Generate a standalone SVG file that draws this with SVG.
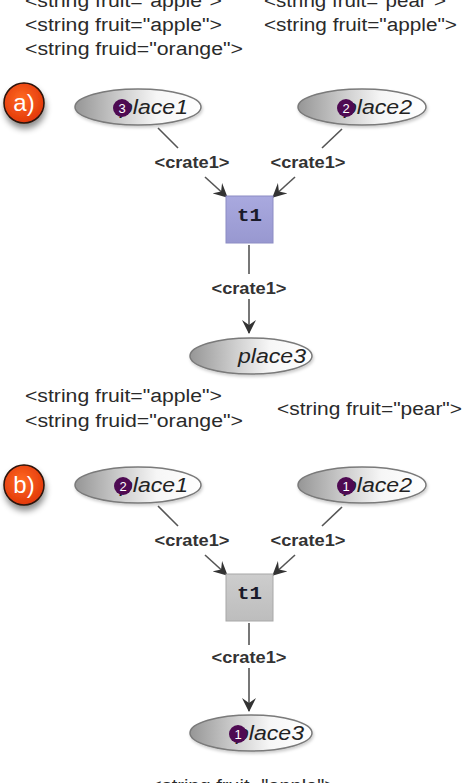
<svg xmlns="http://www.w3.org/2000/svg" width="464" height="783" viewBox="0 0 464 783">
<defs>
<style>
.str{font-family:"Liberation Sans",Arial,sans-serif;font-size:18px;fill:#2a2a2a}
.lbl{font-family:"Liberation Sans",Arial,sans-serif;font-size:16px;font-weight:bold;fill:#333}
.pname{font-family:"Liberation Sans",Arial,sans-serif;font-size:20px;font-style:italic;fill:#222}
.tname{font-family:"Liberation Mono","DejaVu Sans Mono",monospace;font-size:18px;font-weight:bold;fill:#1a1a2a}
.tok{fill:#4e0a52}
.toktxt{font-family:"Liberation Sans",Arial,sans-serif;font-size:13px;fill:#fff}
.place{fill:url(#pg);stroke:#7a7a7a;stroke-width:1.5}
.arc{stroke:#555;stroke-width:1.6;fill:none}
.badge{fill:url(#bg);stroke:#2a1208;stroke-width:1.5}
.btxt{font-family:"Liberation Sans",Arial,sans-serif;font-size:24px;fill:#fff}
</style>
<linearGradient id="pg" x1="0" y1="0" x2="1" y2="0">
<stop offset="0" stop-color="#969696"/>
<stop offset="0.35" stop-color="#cbcbcb"/>
<stop offset="0.65" stop-color="#f6f6f6"/>
<stop offset="1" stop-color="#ffffff"/>
</linearGradient>
<radialGradient id="bg" cx="0.45" cy="0.4" r="0.6">
<stop offset="0" stop-color="#ff6a22"/>
<stop offset="1" stop-color="#e2380a"/>
</radialGradient>
<linearGradient id="tg1" x1="0" y1="0" x2="0" y2="1">
<stop offset="0" stop-color="#a9a9df"/>
<stop offset="1" stop-color="#9898d0"/>
</linearGradient>
<linearGradient id="tg2" x1="0" y1="0" x2="0" y2="1">
<stop offset="0" stop-color="#cdcdcd"/>
<stop offset="1" stop-color="#bdbdbd"/>
</linearGradient>
<filter id="sh" x="-50%" y="-50%" width="200%" height="200%">
<feDropShadow dx="1" dy="5" stdDeviation="3" flood-color="#000" flood-opacity="0.45"/>
</filter>
<filter id="psh" x="-20%" y="-30%" width="140%" height="170%">
<feDropShadow dx="1" dy="2" stdDeviation="1.5" flood-color="#000" flood-opacity="0.2"/>
</filter>
<marker id="ah" viewBox="0 0 14 14" refX="13" refY="7" markerWidth="14" markerHeight="14" markerUnits="userSpaceOnUse" orient="auto">
<path d="M0,0 L14,7 L0,14 L5,7 z" fill="#333"/>
</marker>
</defs>

<g id="texts-top">
<text class="str" x="25" y="7" textLength="197" lengthAdjust="spacingAndGlyphs">&lt;string fruit="apple"&gt;</text>
<text class="str" x="25" y="31" textLength="197" lengthAdjust="spacingAndGlyphs">&lt;string fruit="apple"&gt;</text>
<text class="str" x="25" y="55" textLength="218" lengthAdjust="spacingAndGlyphs">&lt;string fruid="orange"&gt;</text>
<text class="str" x="264" y="7" textLength="182" lengthAdjust="spacingAndGlyphs">&lt;string fruit="pear"&gt;</text>
<text class="str" x="264" y="31" textLength="193" lengthAdjust="spacingAndGlyphs">&lt;string fruit="apple"&gt;</text>
</g>

<g id="texts-mid">
<text class="str" x="25" y="402" textLength="197" lengthAdjust="spacingAndGlyphs">&lt;string fruit="apple"&gt;</text>
<text class="str" x="25" y="427" textLength="218" lengthAdjust="spacingAndGlyphs">&lt;string fruid="orange"&gt;</text>
<text class="str" x="277" y="415" textLength="185" lengthAdjust="spacingAndGlyphs">&lt;string fruit="pear"&gt;</text>
</g>

<g id="texts-bottom">
<text class="str" x="150" y="792" textLength="186" lengthAdjust="spacingAndGlyphs">&lt;string fruit="apple"&gt;</text>
</g>

<g id="badge-a">
<circle class="badge" cx="24" cy="103" r="20" filter="url(#sh)"/>
<text class="btxt" x="24" y="111" text-anchor="middle">a)</text>
</g>
<g id="badge-b">
<circle class="badge" cx="24" cy="485" r="20" filter="url(#sh)"/>
<text class="btxt" x="24" y="493" text-anchor="middle">b)</text>
</g>

<g id="connectors">
<line class="arc" x1="158" y1="128" x2="178" y2="148"/>
<line class="arc" x1="205" y1="177" x2="227" y2="197" marker-end="url(#ah)"/>
<line class="arc" x1="342" y1="129" x2="322" y2="148"/>
<line class="arc" x1="295" y1="177" x2="273" y2="197" marker-end="url(#ah)"/>
<line class="arc" x1="249" y1="245" x2="249" y2="274"/>
<line class="arc" x1="249" y1="299" x2="249" y2="333" marker-end="url(#ah)"/>
<line class="arc" x1="158" y1="506" x2="178" y2="526"/>
<line class="arc" x1="205" y1="555" x2="227" y2="575" marker-end="url(#ah)"/>
<line class="arc" x1="342" y1="507" x2="322" y2="526"/>
<line class="arc" x1="295" y1="555" x2="273" y2="575" marker-end="url(#ah)"/>
<line class="arc" x1="249" y1="623" x2="249" y2="645"/>
<line class="arc" x1="249" y1="668" x2="249" y2="711" marker-end="url(#ah)"/>
</g>

<g id="arc-labels">
<text class="lbl" x="192" y="168" text-anchor="middle" textLength="75" lengthAdjust="spacingAndGlyphs">&lt;crate1&gt;</text>
<text class="lbl" x="308" y="168" text-anchor="middle" textLength="75" lengthAdjust="spacingAndGlyphs">&lt;crate1&gt;</text>
<text class="lbl" x="249" y="294" text-anchor="middle" textLength="75" lengthAdjust="spacingAndGlyphs">&lt;crate1&gt;</text>
<text class="lbl" x="192" y="546" text-anchor="middle" textLength="75" lengthAdjust="spacingAndGlyphs">&lt;crate1&gt;</text>
<text class="lbl" x="308" y="546" text-anchor="middle" textLength="75" lengthAdjust="spacingAndGlyphs">&lt;crate1&gt;</text>
<text class="lbl" x="249" y="663" text-anchor="middle" textLength="75" lengthAdjust="spacingAndGlyphs">&lt;crate1&gt;</text>
</g>

<g id="a-place1">
<ellipse class="place" cx="138" cy="107" rx="63" ry="18" filter="url(#psh)"/>
<text class="pname" x="120" y="114" textLength="68" lengthAdjust="spacingAndGlyphs">place1</text>
<circle class="tok" cx="122" cy="108" r="9"/>
<text class="toktxt" x="122" y="112.5" text-anchor="middle">3</text>
</g>
<g id="a-place2">
<ellipse class="place" cx="362" cy="107" rx="64" ry="18" filter="url(#psh)"/>
<text class="pname" x="344" y="114" textLength="68" lengthAdjust="spacingAndGlyphs">place2</text>
<circle class="tok" cx="346" cy="108" r="9"/>
<text class="toktxt" x="346" y="112.5" text-anchor="middle">2</text>
</g>
<g id="a-t1">
<rect x="226" y="196" width="47" height="47" fill="url(#tg1)" stroke="#8c8cc4" stroke-width="1"/>
<text class="tname" x="249.5" y="221" text-anchor="middle" textLength="25" lengthAdjust="spacingAndGlyphs">t1</text>
</g>
<g id="a-place3">
<ellipse class="place" cx="251" cy="356" rx="61" ry="18" filter="url(#psh)"/>
<text class="pname" x="238" y="363" textLength="68" lengthAdjust="spacingAndGlyphs">place3</text>
</g>

<g id="b-place1">
<ellipse class="place" cx="138" cy="485" rx="63" ry="18" filter="url(#psh)"/>
<text class="pname" x="120" y="492" textLength="68" lengthAdjust="spacingAndGlyphs">place1</text>
<circle class="tok" cx="123" cy="486" r="9"/>
<text class="toktxt" x="123" y="490.5" text-anchor="middle">2</text>
</g>
<g id="b-place2">
<ellipse class="place" cx="362" cy="485" rx="64" ry="18" filter="url(#psh)"/>
<text class="pname" x="344" y="492" textLength="68" lengthAdjust="spacingAndGlyphs">place2</text>
<circle class="tok" cx="346" cy="486" r="9"/>
<text class="toktxt" x="346" y="490.5" text-anchor="middle">1</text>
</g>
<g id="b-t1">
<rect x="226" y="574" width="47" height="47" fill="url(#tg2)" stroke="#a8a8a8" stroke-width="1"/>
<text class="tname" x="249.5" y="599" text-anchor="middle" textLength="25" lengthAdjust="spacingAndGlyphs">t1</text>
</g>
<g id="b-place3">
<ellipse class="place" cx="251" cy="733" rx="61" ry="18" filter="url(#psh)"/>
<text class="pname" x="236" y="740" textLength="68" lengthAdjust="spacingAndGlyphs">place3</text>
<circle class="tok" cx="238" cy="734" r="9"/>
<text class="toktxt" x="238" y="738.5" text-anchor="middle">1</text>
</g>
</svg>
